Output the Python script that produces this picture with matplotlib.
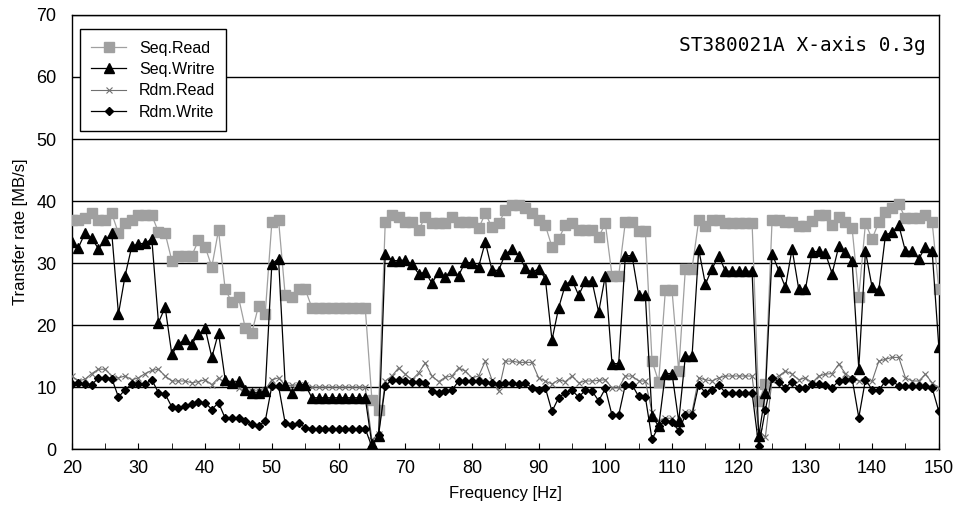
import matplotlib
matplotlib.use("Agg")
import matplotlib.pyplot as plt
import numpy as np

plt.rcParams['font.family'] = ['Liberation Sans', 'DejaVu Sans']

# frequency points, 1 Hz steps
freq = list(range(20, 151))

seq_read = [
    37, 37, 37.3, 38, 37, 37, 38, 34.8, 36.5, 37, 37.7, 37.7, 37.7, 35, 34.8, 30.4,
    31.2, 31.2, 31.2, 33.7, 32.6, 29.4, 35.3, 25.8, 23.7, 24.5, 19.6, 18.8, 23.1, 21.8, 36.6, 37,
    24.8, 24.6, 25.8, 25.8, 22.8, 22.8, 22.8, 22.8, 22.8, 22.8, 22.8, 22.8, 22.8, 8, 6.4, 36.6, 37.7,
    37.5, 36.6, 36.6, 35.3, 37.5, 36.4, 36.4, 36.4, 37.5, 36.6, 36.6, 36.6, 35.6, 38, 35.8, 36.4, 38.5,
    39.4, 39.4, 38.8, 38, 37, 36.1, 32.6, 33.9, 36.1, 36.5, 35.3, 35.4, 35.4, 34.2, 36.4, 28, 28, 36.6,
    36.6, 35.2, 35.2, 14.2, 10.9, 25.6, 25.6, 12.6, 29.1, 29.1, 36.9, 35.9, 36.9, 36.9, 36.5, 36.5, 36.5,
    36.5, 36.5, 7.7, 10.5, 36.9, 36.9, 36.6, 36.6, 35.9, 35.9, 36.8, 37.7, 37.7, 36.1, 37.4, 36.6, 35.6,
    24.6, 36.4, 33.9, 36.6, 38.3, 38.8, 39.5, 37.2, 37.2, 37.2, 37.7, 36.6, 25.8,
]

seq_write = [
    33.4, 32.5, 34.9, 34.0, 32.3, 33.7, 34.8, 21.8, 28.0, 32.7, 33.1, 33.2, 33.9, 20.4, 22.9, 15.3,
    17, 17.7, 17, 18.5, 19.5, 14.8, 18.8, 11.2, 10.7, 11, 9.5, 9.1, 9.1, 9.4, 29.9, 30.7,
    10.4, 9.1, 10.4, 10.4, 8.3, 8.3, 8.3, 8.3, 8.3, 8.3, 8.3, 8.3, 8.3, 0.8, 2.1, 31.5, 30.4,
    30.4, 30.5, 29.8, 28.3, 28.5, 26.8, 28.5, 27.8, 28.9, 28, 30.2, 30, 29.4, 33.4, 28.9, 28.8, 31.5,
    32.2, 31.2, 29.2, 28.5, 29.1, 27.5, 17.6, 22.8, 26.5, 27.3, 24.8, 27.1, 27.1, 22.1, 28, 13.8, 13.8, 31.2,
    31.2, 24.8, 24.8, 5.3, 3.7, 12.2, 12.2, 4.5, 15, 15, 32.2, 26.6, 29.1, 31.2, 28.7, 28.7, 28.7,
    28.7, 28.7, 2.1, 9.1, 31.5, 28.8, 26.1, 32.3, 25.8, 25.8, 31.8, 31.9, 31.6, 28.3, 32.7, 31.8, 30.3,
    13, 31.9, 26.1, 25.6, 34.5, 35, 36.1, 31.9, 31.9, 30.7, 32.6, 31.9, 16.5,
]

rdm_read = [
    11.8, 11, 11.3, 12.2, 12.9, 12.9, 11.8, 11.5, 11.8, 11.2, 11.5, 12.2, 12.7, 12.9, 11.8, 11,
    11, 11, 10.7, 10.9, 11.2, 10.4, 11.5, 10.7, 10.7, 9.9, 9.4, 9.4, 9.4, 9.6, 11.2, 11.5,
    10.3, 10.3, 10.4, 10.4, 10, 10, 10, 10, 10, 10, 10, 10, 10, 1.5, 2.5, 11, 11.8,
    13.1, 12.1, 11.2, 12.3, 13.9, 11.8, 10.9, 11.6, 11.8, 13.1, 12.6, 11.5, 11.8, 14.2, 11.2, 9.4, 14.2,
    14.2, 14, 14, 14, 11.5, 11, 10.5, 11.2, 10.9, 11.8, 10.7, 11, 11, 11.1, 11.2, 9.9, 9.9, 11.8,
    11.8, 11, 11, 6, 4.5, 5, 5, 4, 6, 6, 11.5, 11.2, 11, 11.5, 11.8, 11.8, 11.8,
    11.8, 11.8, 3, 2, 11.2, 11.8, 12.6, 12.1, 11.2, 11.5, 10.7, 11.8, 12.1, 12.2, 13.7, 12.2, 11.4,
    11, 11, 11, 14.2, 14.5, 14.8, 14.8, 11.5, 11, 11, 12.1, 10.7, 9.9,
]

rdm_write = [
    10.5, 10.7, 10.5, 10.4, 11.5, 11.5, 11.4, 8.4, 9.6, 10.5, 10.5, 10.5, 11.2, 9.1, 8.9, 6.8,
    6.7, 6.9, 7.3, 7.6, 7.5, 6.4, 7.5, 5, 5, 5, 4.5, 4.1, 3.8, 4.5, 10.2, 10.2,
    4.2, 3.9, 4.2, 3.5, 3.3, 3.3, 3.3, 3.3, 3.3, 3.3, 3.3, 3.3, 3.3, 0.4, 2.3, 10.2, 11.2,
    11.2, 11, 10.9, 10.8, 10.7, 9.4, 9.1, 9.4, 9.5, 11, 11, 11, 11, 10.8, 10.7, 10.5, 10.7,
    10.7, 10.5, 10.7, 9.9, 9.6, 9.9, 6.1, 8.3, 9.1, 9.5, 8.4, 9.5, 9.4, 7.8, 9.8, 5.5, 5.5, 10.4,
    10.4, 8.5, 8.4, 1.6, 3.7, 4.6, 4.4, 3, 5.5, 5.5, 10.4, 9.1, 9.6, 10.4, 9.1, 9.1, 9.1,
    9.1, 9.1, 0.5, 6.4, 11.5, 10.9, 9.9, 10.9, 9.8, 9.8, 10.5, 10.5, 10.3, 9.9, 11, 11.2, 11.4,
    5.1, 11.2, 9.6, 9.5, 11, 11, 10.2, 10.2, 10.2, 10.2, 10.2, 9.9, 6.1,
]

fig = plt.figure(figsize=(9.57, 5.14), dpi=100)
ax = fig.add_axes([0.075, 0.126, 0.906, 0.845])

ax.plot(freq, seq_read, color='#a0a0a0', lw=0.9, marker='s', ms=6.5,
        mfc='#a0a0a0', mec='#a0a0a0', label='Seq.Read', zorder=3)
ax.plot(freq, seq_write, color='black', lw=0.9, marker='^', ms=6.5,
        mfc='black', mec='black', label='Seq.Writre', zorder=4)
ax.plot(freq, rdm_read, color='#707070', lw=0.8, marker='x', ms=5,
        mew=0.8, mec='#707070', label='Rdm.Read', zorder=3)
ax.plot(freq, rdm_write, color='black', lw=0.9, marker='D', ms=4,
        mfc='black', mec='black', label='Rdm.Write', zorder=4)

ax.set_xlim(20, 150)
ax.set_ylim(0, 70)
ax.set_xticks(range(20, 151, 10))
ax.set_xticks(range(20, 151, 5), minor=True)
ax.set_yticks(range(0, 71, 10))
ax.tick_params(axis='x', which='both', direction='in', length=4, labelsize=13, pad=8)
ax.tick_params(axis='y', length=0, labelsize=13, pad=11)
ax.yaxis.grid(True, color='black', lw=1.0)
ax.set_axisbelow(True)
for s in ax.spines.values():
    s.set_color('black')
    s.set_linewidth(1.0)

ax.set_xlabel('Frequency [Hz]', fontsize=12, labelpad=6)
ax.set_ylabel('Transfer rate [MB/s]', fontsize=12, labelpad=6)

ax.text(0.985, 0.93, 'ST380021A X-axis 0.3g', transform=ax.transAxes,
        ha='right', va='center', fontsize=14, family='DejaVu Sans Mono')

leg = ax.legend(loc='upper left', bbox_to_anchor=(0.0, 0.985), fontsize=11.5,
                frameon=True, fancybox=False, edgecolor='black',
                handlelength=2.2, borderpad=0.7, labelspacing=0.4)
leg.get_frame().set_linewidth(1.0)
leg.get_frame().set_alpha(1)

fig.savefig('out.png', dpi=100)
